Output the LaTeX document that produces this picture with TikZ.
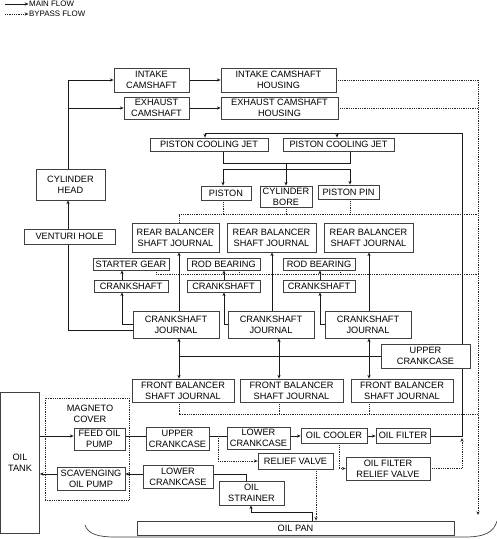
\documentclass[tikz,border=0pt]{standalone}
\usepackage{fontspec}
\setmainfont{Liberation Sans}
\usetikzlibrary{arrows.meta}
\pgfdeclarelayer{bg}
\pgfsetlayers{bg,main}
\tikzset{
 box/.style={draw=black!75, line width=0.7pt, fill=white, inner sep=0pt, align=center,
   font=\fontsize{9.2}{10.8}\selectfont, text=black},
 ln/.style={draw=black!90, line width=0.85pt},
 flow/.style={ln, -{Stealth[length=3.8pt,width=3.2pt]}},
 byp/.style={draw=black!85, line width=0.65pt, dash pattern=on 0.9pt off 0.9pt},
 bypa/.style={byp, -{Stealth[length=3.8pt,width=3.2pt]}},
 legtext/.style={inner sep=0.5pt, anchor=west, font=\fontsize{7.9}{8}\selectfont, text=black},
}
\begin{document}
\begin{tikzpicture}[x=1pt,y=-1pt]
\useasboundingbox (0,0) rectangle (497,539);
% boxes
\node[box,minimum width=75pt,minimum height=24pt] (ic) at (151.5,80) {INTAKE\\CAMSHAFT};
\node[box,minimum width=65pt,minimum height=22pt] (ec) at (156.5,108) {EXHAUST\\CAMSHAFT};
\node[box,minimum width=115pt,minimum height=24pt] (ich) at (278.5,80) {INTAKE CAMSHAFT\\HOUSING};
\node[box,minimum width=117pt,minimum height=22pt] (ech) at (279.5,108) {EXHAUST CAMSHAFT\\HOUSING};
\node[box,minimum width=118pt,minimum height=13pt] (pcj1) at (209,144.5) {PISTON COOLING JET};
\node[box,minimum width=111pt,minimum height=13pt] (pcj2) at (338.5,144.5) {PISTON COOLING JET};
\node[box,minimum width=69pt,minimum height=31pt] (ch) at (70.5,184.5) {CYLINDER\\HEAD};
\node[box,minimum width=91pt,minimum height=15pt] (vh) at (69.5,236.5) {VENTURI HOLE};
\node[box,minimum width=50pt,minimum height=14pt] (piston) at (226,193) {PISTON};
\node[box,minimum width=52pt,minimum height=21pt] (bore) at (286,196.5) {CYLINDER\\BORE};
\node[box,minimum width=61pt,minimum height=14pt] (pin) at (348.5,192) {PISTON PIN};
\node[box,minimum width=87pt,minimum height=29pt] (rb1) at (175.5,237.5) {REAR BALANCER\\SHAFT JOURNAL};
\node[box,minimum width=89pt,minimum height=29pt] (rb2) at (271.5,237.5) {REAR BALANCER\\SHAFT JOURNAL};
\node[box,minimum width=89pt,minimum height=29pt] (rb3) at (368.5,237.5) {REAR BALANCER\\SHAFT JOURNAL};
\node[box,minimum width=76pt,minimum height=12pt] (sg) at (131,264) {STARTER GEAR};
\node[box,minimum width=73pt,minimum height=12pt] (rod1) at (223.5,264) {ROD BEARING};
\node[box,minimum width=72pt,minimum height=12pt] (rod2) at (319,264) {ROD BEARING};
\node[box,minimum width=74pt,minimum height=12pt] (cs1) at (131,286) {CRANKSHAFT};
\node[box,minimum width=73pt,minimum height=12pt] (cs2) at (223.5,286) {CRANKSHAFT};
\node[box,minimum width=72pt,minimum height=12pt] (cs3) at (319,286) {CRANKSHAFT};
\node[box,minimum width=86pt,minimum height=27pt] (cj1) at (176,324.5) {CRANKSHAFT\\JOURNAL};
\node[box,minimum width=86pt,minimum height=27pt] (cj2) at (271,324.5) {CRANKSHAFT\\JOURNAL};
\node[box,minimum width=86pt,minimum height=27pt] (cj3) at (368,324.5) {CRANKSHAFT\\JOURNAL};
\node[box,minimum width=89pt,minimum height=24pt] (uc1) at (425.5,356) {UPPER\\CRANKCASE};
\node[box,minimum width=102pt,minimum height=23pt] (fb1) at (183,390.5) {FRONT BALANCER\\SHAFT JOURNAL};
\node[box,minimum width=103pt,minimum height=23pt] (fb2) at (291.5,390.5) {FRONT BALANCER\\SHAFT JOURNAL};
\node[box,minimum width=102pt,minimum height=23pt] (fb3) at (402,390.5) {FRONT BALANCER\\SHAFT JOURNAL};
\node[box,minimum width=39pt,minimum height=141pt] (tank) at (20,462.5) {OIL\\TANK};
\node[byp,fill=none,inner sep=0pt,minimum width=84pt,minimum height=102pt] (mag) at (87,449) {};
\node[box,draw=none,fill=none] (magt) at (90,413.5) {MAGNETO\\COVER};
\node[box,minimum width=51pt,minimum height=22pt] (fop) at (99.5,439) {FEED OIL\\PUMP};
\node[box,minimum width=68pt,minimum height=23pt] (sop) at (91,478.5) {SCAVENGING\\OIL PUMP};
\node[box,minimum width=63pt,minimum height=23pt] (uc2) at (177.5,438.5) {UPPER\\CRANKCASE};
\node[box,minimum width=70pt,minimum height=23pt] (lc2) at (178,476.5) {LOWER\\CRANKCASE};
\node[box,minimum width=63pt,minimum height=22pt] (lc1) at (258.5,438) {LOWER\\CRANKCASE};
\node[box,minimum width=75pt,minimum height=16pt] (rv) at (295.5,461) {RELIEF VALVE};
\node[box,minimum width=66pt,minimum height=15pt] (cool) at (334,435.5) {OIL COOLER};
\node[box,minimum width=54pt,minimum height=15pt] (filt) at (403,435.5) {OIL FILTER};
\node[box,minimum width=84pt,minimum height=23pt] (ofrv) at (388,468.5) {OIL FILTER\\RELIEF VALVE};
\node[box,minimum width=65pt,minimum height=24pt] (str) at (251.5,493) {OIL\\STRAINER};
\node[box,minimum width=317pt,minimum height=14pt] (pan) at (295.5,528) {OIL PAN};
% legend
\coordinate (lg1) at (5,4);
\coordinate (lg2) at (5,14);
\node[legtext] (lmain) at (28.5,4) {MAIN FLOW};
\node[legtext] (lbyp) at (28.5,14) {BYPASS FLOW};
% helper coordinates
\coordinate (xL) at (68,0); \coordinate (xR) at (462,0); \coordinate (xD) at (478,0);
\coordinate (a1) at (179,0); \coordinate (a2) at (272,0); \coordinate (a3) at (369,0);
\coordinate (b2) at (279,0);
\coordinate (c1) at (122,0); \coordinate (c2) at (224,0); \coordinate (c3) at (320,0);
\coordinate (top) at (462,133); \coordinate (q1) at (205,133); \coordinate (q2) at (337,133);
\coordinate (j1) at (223,163); \coordinate (j2) at (350,163); \coordinate (j3) at (286,163);
\coordinate (p1) at (223,169); \coordinate (p2) at (286,169); \coordinate (p3) at (350,169);
\coordinate (y214) at (0,214);
\coordinate (t1) at (156,274); \coordinate (t2) at (239,274); \coordinate (t3) at (340,274);
\coordinate (y414) at (0,414);
\coordinate (r1) at (0,436); \coordinate (r2) at (0,474);
\coordinate (u) at (218,436); \coordinate (o1) at (339,0);
\coordinate (jr) at (462,438); \coordinate (dend) at (478,515);
\coordinate (s1) at (246,0); \coordinate (s2) at (312,0); \coordinate (s3) at (251,512);
\coordinate (s4) at (316,0); \coordinate (yv) at (0,330);
\begin{pgfonlayer}{bg}
% legend
\draw[flow] (lg1) -- (lmain.west);
\draw[bypa] (lg2) -- (lbyp.west);
% main flow
\draw[flow] (ch.north -| xL) |- (ic.west);
\draw[flow] (xL |- ec.west) -- (ec.west);
\draw[flow] (ic.east) -- (ich.west);
\draw[flow] (ec.east) -- (ech.west);
\draw[flow] (vh.north -| xL) -- (ch.south -| xL);
\draw[ln] (cj1.west |- yv) -| (vh.south -| xL);
\draw[ln] (filt.east |- r1) -| (top) -- (q1);
\draw[flow] (q1) -- (pcj1.north -| q1);
\draw[flow] (q2) -- (pcj2.north -| q2);
\draw[ln] (pcj1.south -| j1) -- (j1) -- (j2) -- (pcj2.south -| j2);
\draw[ln] (j3) -- (p2);
\draw[ln] (p1) -- (p3);
\draw[flow] (p1) -- (piston.north -| p1);
\draw[flow] (p2) -- (bore.north -| p2);
\draw[flow] (p3) -- (pin.north -| p3);
\draw[flow] (cj1.north -| a1) -- (rb1.south -| a1);
\draw[flow] (cj2.north -| a2) -- (rb2.south -| a2);
\draw[flow] (cj3.north -| a3) -- (rb3.south -| a3);
\draw[flow] (cj1.west) -| (cs1.south -| c1);
\draw[flow] (cj2.west) -| (cs2.south -| c2);
\draw[flow] (cj3.west) -| (cs3.south -| c3);
\draw[flow] (cs1.north -| c1) -- (sg.south -| c1);
\draw[flow] (cs2.north -| c2) -- (rod1.south -| c2);
\draw[flow] (cs3.north -| c3) -- (rod2.south -| c3);
\draw[ln] (uc1.west) -- (uc1.west -| a1);
\draw[flow] (uc1.west -| a1) -- (cj1.south -| a1);
\draw[flow] (uc1.west -| a1) -- (fb1.north -| a1);
\draw[flow] (uc1.west -| b2) -- (cj2.south -| b2);
\draw[flow] (uc1.west -| b2) -- (fb2.north -| b2);
\draw[flow] (uc1.west -| a3) -- (cj3.south -| a3);
\draw[flow] (uc1.west -| a3) -- (fb3.north -| a3);
\draw[flow] (tank.east |- r1) -- (fop.west |- r1);
\draw[ln] (fop.east |- r1) -- (uc2.west |- r1);
\draw[ln] (uc2.east |- r1) -- (lc1.west |- r1);
\draw[flow] (lc1.east |- r1) -- (cool.west |- r1);
\draw[flow] (cool.east |- r1) -- (filt.west |- r1);
\draw[flow] (sop.west |- r2) -- (tank.east |- r2);
\draw[flow] (lc2.west |- r2) -- (sop.east |- r2);
\draw[ln] (lc2.east |- r2) -| (str.north -| s1);
\draw[flow] (pan.north -| s2) |- (s3) -- (str.south -| s3);
% bypass flow
\draw[byp] (ich.east) -- (ich.east -| xD);
\draw[bypa] (ich.east -| xD) -- (dend);
\draw[byp] (ech.east) -- (ech.east -| xD);
\draw[byp] (rb1.north -| a1) |- (xD |- y214);
\draw[byp] (piston.south -| p1) -- (p1 |- y214);
\draw[byp] (bore.south -| p2) -- (p2 |- y214);
\draw[byp] (pin.south -| p3) -- (p3 |- y214);
\draw[byp] (sg.south -| t1) -- (t1) -- (xD |- t1);
\draw[byp] (rod1.south -| t2) -- (t2);
\draw[byp] (rod2.south -| t3) -- (t3);
\draw[byp] (fb1.south -| a1) |- (xD |- y414);
\draw[byp] (fb2.south -| b2) -- (b2 |- y414);
\draw[byp] (fb3.south -| a3) -- (a3 |- y414);
\draw[bypa] (u) |- (rv.west);
\draw[bypa] (rv.south -| s4) -- (pan.north -| s4);
\draw[bypa] (cool.south -| o1) |- (ofrv.west);
\draw[bypa] (ofrv.east) -| (jr);
\end{pgfonlayer}
% oil pan outline
\draw[draw=black!75, line width=0.7pt] (85,525) .. controls (88,534) and (98,537) .. (115,537) -- (465,537) .. controls (485,537) and (494,532) .. (497,521);
\end{tikzpicture}
\end{document}
